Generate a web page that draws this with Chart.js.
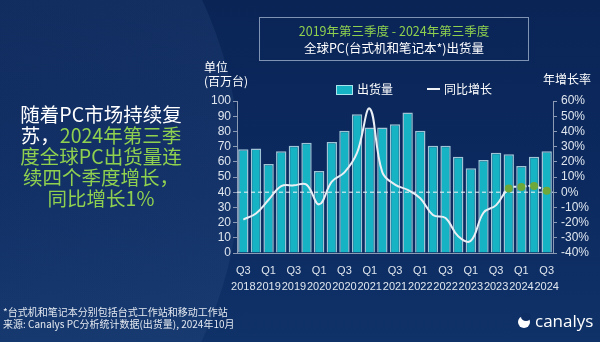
<!DOCTYPE html>
<html>
<head>
<meta charset="utf-8">
<script src="https://cdn.jsdelivr.net/npm/chart.js@4"></script>
<style>
  html, body { margin: 0; padding: 0; }
  body {
    width: 600px; height: 342px; overflow: hidden; position: relative;
    background: linear-gradient(180deg, #0a2456 0%, #0c2a60 55%, #0f3268 100%);
    font-family: "Noto Sans CJK SC", "Noto Sans", sans-serif;
    color: #fff;
  }
  .swoosh {
    position: absolute; left: -560px; top: -230px; width: 800px; height: 800px;
    border-radius: 50%;
    background: radial-gradient(circle at 60% 50%, rgba(60,95,150,0.10) 0%, rgba(60,95,150,0.24) 88%, rgba(120,150,200,0.32) 99%, rgba(120,150,200,0) 100%);
  }
  canvas { position: absolute; left: 0; top: 0; }
  .abs { position: absolute; white-space: nowrap; }
  .titlebox {
    position: absolute; left: 259px; top: 17px; width: 270px; height: 44px;
    border: 1.5px solid #7f93b2; box-sizing: border-box;
    text-align: center; font-size: 12.5px; line-height: 17px; padding-top: 4px;
  }
  .green { color: #8fd14f; }
  .lead {
    position: absolute; left: 0; top: 103px; width: 202px; text-align: center;
    font-size: 19.5px; line-height: 21px; white-space: nowrap;
  }
  .small { font-size: 12px; line-height: 14px; }
  .foot { font-size: 10px; line-height: 12px; color: #e4e9f0; }
</style>
</head>
<body>
<div class="swoosh"></div>
<canvas id="myChart" width="600" height="342"></canvas>

<div class="titlebox">
  <div class="green">2019年第三季度 - 2024年第三季度</div>
  <div>全球PC(台式机和笔记本*)出货量</div>
</div>

<div class="abs small" style="left:204px;top:60px;">单位</div>
<div class="abs small" style="left:204px;top:74px;">(百万台)</div>
<div class="abs small" style="left:543px;top:72px;">年增长率</div>

<div class="abs" style="left:336px;top:85px;width:15px;height:8px;background:#16b3c4;border:1px solid #a9e3ec;"></div>
<div class="abs small" style="left:357px;top:82px;">出货量</div>
<div class="abs" style="left:427px;top:88px;width:13px;height:2px;background:#eef2f6;"></div>
<div class="abs small" style="left:444px;top:82px;">同比增长</div>

<div class="lead">
  <div>随着PC市场持续复</div>
  <div>苏，<span class="green">2024年第三季</span></div>
  <div class="green">度全球PC出货量连</div>
  <div class="green">续四个季度增长，</div>
  <div class="green">同比增长1%</div>
</div>

<div class="abs foot" style="left:3px;top:306px;">*台式机和笔记本分别包括台式工作站和移动工作站</div>
<div class="abs foot" style="left:3px;top:318px;">来源: Canalys PC分析统计数据(出货量), 2024年10月</div>
<div class="abs" style="left:518px;top:316px;width:12px;height:12px;border-radius:50%;background:#ffffff;"></div>
<div class="abs" style="left:521px;top:313px;width:10px;height:8px;border-radius:50%;background:#0d2d63;"></div>
<div class="abs" style="left:535px;top:311px;font-family:'Open Sans',sans-serif;font-size:17px;line-height:20px;">canalys</div>

<script>
const quarters = [
  ['Q3', '2018'], ['Q4', '2018'], ['Q1', '2019'], ['Q2', '2019'], ['Q3', '2019'],
  ['Q4', '2019'], ['Q1', '2020'], ['Q2', '2020'], ['Q3', '2020'], ['Q4', '2020'],
  ['Q1', '2021'], ['Q2', '2021'], ['Q3', '2021'], ['Q4', '2021'], ['Q1', '2022'],
  ['Q2', '2022'], ['Q3', '2022'], ['Q4', '2022'], ['Q1', '2023'], ['Q2', '2023'],
  ['Q3', '2023'], ['Q4', '2023'], ['Q1', '2024'], ['Q2', '2024'], ['Q3', '2024']
];
// shipments, millions of units
const shipments = [68.2, 68.8, 58.5, 67.0, 70.5, 72.5, 54.0, 73.0, 80.4, 91.3,
                   82.6, 82.6, 84.7, 92.4, 80.4, 70.5, 70.5, 63.3, 55.7, 61.2,
                   66.0, 64.9, 57.2, 63.3, 67.0];
// year on year growth, %
const yoyGrowth = [-18, -14, -5, 4, 4.5, 5, -8, 7, 13, 26,
                   55, 13, 5, 1.5, -4, -15, -17, -29, -32, -13.5,
                   -8.5, 2.5, 3.5, 4, 1];
const leftTicks = { min: 0, max: 100, step: 10 };
const rightTicks = { min: -40, max: 60, step: 10 };

const greenFrom = 21;
const tickColor = '#dfe6ee';
const axisColor = '#8c9bb3';

const zeroLine = {
    id: 'zeroLine',
    afterDatasetDraw(chart, args) {
        if (args.index !== 1) return;
        const ctx = chart.ctx;
        const area = chart.chartArea;
        const y = chart.scales.y1.getPixelForValue(0);
        ctx.save();
        ctx.strokeStyle = '#f2f5f8';
        ctx.lineWidth = 1;
        ctx.setLineDash([4, 3]);
        ctx.beginPath();
        ctx.moveTo(area.left, y);
        ctx.lineTo(area.right, y);
        ctx.stroke();
        ctx.restore();
    }
};

const ctx = document.getElementById('myChart');
new Chart(ctx, {
    type: 'bar',
    data: {
        labels: quarters,
        datasets: [
            {
                type: 'line',
                label: '同比增长',
                data: yoyGrowth,
                yAxisID: 'y1',
                order: 0,
                borderColor: '#e9eff5',
                borderWidth: 2,
                tension: 0.4,
                pointRadius: c => c.dataIndex >= greenFrom ? 3 : 0,
                pointBackgroundColor: '#6fa83a',
                pointBorderColor: '#6fa83a',
                segment: {
                    borderDash: c => c.p0DataIndex >= greenFrom ? [3, 2] : undefined
                }
            },
            {
                label: '出货量',
                data: shipments,
                yAxisID: 'y',
                order: 1,
                backgroundColor: '#16b3c4',
                borderColor: '#9fc4d6',
                borderWidth: 1.5,
                barPercentage: 0.82,
                categoryPercentage: 1.0
            }
        ]
    },
    options: {
        responsive: false,
        animation: false,
        layout: { padding: { left: 195, right: 0, top: 101, bottom: 49 } },
        plugins: { legend: { display: false }, tooltip: { enabled: false } },
        scales: {
            x: {
                grid: { display: false },
                border: { display: true, color: axisColor, width: 1 },
                ticks: {
                    autoSkip: false, maxRotation: 0, padding: 2,
                    color: tickColor,
                    font: { family: 'Liberation Sans', size: 11, lineHeight: 1.45 },
                    callback: function (v, i) { return i % 2 === 0 ? this.getLabelForValue(v) : ''; }
                },
                afterFit: s => { s.height = 40; }
            },
            y: {
                position: 'left',
                min: leftTicks.min, max: leftTicks.max,
                grid: { drawOnChartArea: false, drawTicks: true, tickLength: 4, color: axisColor },
                border: { display: true, color: axisColor },
                ticks: {
                    stepSize: leftTicks.step, autoSkip: false, padding: 2, color: tickColor,
                    font: { family: 'Liberation Sans', size: 12 }
                },
                afterFit: s => { s.width = 42; }
            },
            y1: {
                position: 'right',
                min: rightTicks.min, max: rightTicks.max,
                grid: { drawOnChartArea: false, drawTicks: true, tickLength: 4, color: axisColor },
                border: { display: true, color: axisColor },
                ticks: {
                    stepSize: rightTicks.step, autoSkip: false, padding: 4, color: tickColor,
                    font: { family: 'Liberation Sans', size: 12 },
                    callback: v => v + '%'
                },
                afterFit: s => { s.width = 47; }
            }
        }
    },
    plugins: [zeroLine]
});
</script>
</body>
</html>
